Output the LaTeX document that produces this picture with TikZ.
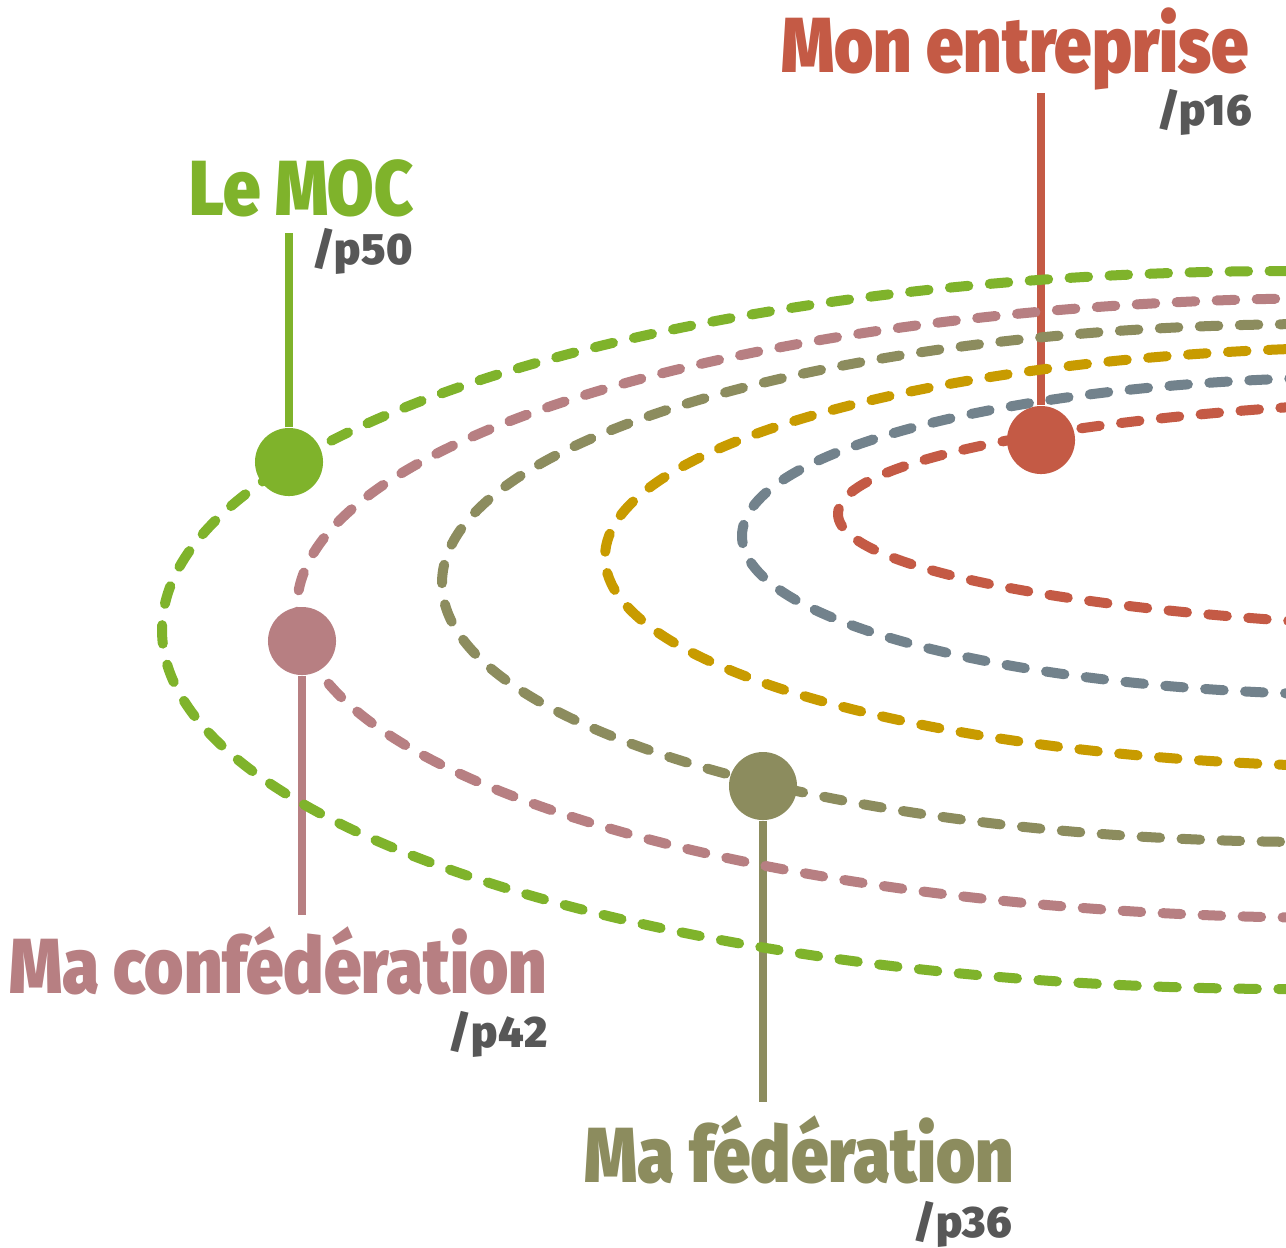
\documentclass[tikz,border=0pt]{standalone}
\usepackage{fontspec}
\newfontfamily\rotulo{Fira Sans}[UprightFont={* Black}, FakeStretch=0.86]
\newfontfamily\rotulopagina{Fira Sans}[UprightFont={* Black}, LetterSpace=2]
\definecolor{verde}{HTML}{7FB32B}
\definecolor{malva}{HTML}{B77F82}
\definecolor{oliva}{HTML}{8C8C5E}
\definecolor{oro}{HTML}{C89B00}
\definecolor{pizarra}{HTML}{72828C}
\definecolor{ladrillo}{HTML}{C45A45}
\definecolor{gristexto}{HTML}{575757}
\newcommand{\orbita}[3]% centro, radio x, radio y
{(#1) ellipse [x radius=#2,y radius=#3]
}

\begin{document}
\begin{tikzpicture}[x=0.01cm, y=-0.01cm,
		orbita/.style={line width=1mm, dash pattern=on 1.85mm off 2.15mm, line cap=round},
		punto/.style={circle, fill=#1, inner sep=0pt, minimum size=6.8mm},
		tallo/.style={line width=0.85mm},
		titulo/.style={font=\rotulo\fontsize{22.2}{24}\selectfont, inner sep=0pt, anchor=base east},
		pagina/.style={font=\rotulopagina\fontsize{12.5}{14}\selectfont, text=gristexto, inner sep=0pt, anchor=base east}]
		\clip (0,0) rectangle (1286,1247);
		
		%Puntos sobre las orbitas
		\node[punto=verde] (moc) at (289,462) {};
		\node[punto=malva] (confederation) at (302,641) {};
		\node[punto=oliva] (federation) at (763,786) {};
		\node[punto=ladrillo] (entreprise) at (1041,440) {};
		
		\coordinate (moc-top) at (289,233);
		\coordinate (confederation-bot) at (302,915);
		\coordinate (federation-bot) at (763,1102);
		\coordinate (entreprise-top) at (1041,93);
		
		\draw[tallo, verde] (moc) -- (moc-top);
		\draw[tallo, malva] (confederation) -- (confederation-bot);
		\draw[tallo, oliva] (federation) -- (federation-bot);
		\draw[tallo, ladrillo] (entreprise) -- (entreprise-top);
		
		%Dibuja las orbitas, de fuera hacia dentro
		\draw[orbita, verde]\orbita{1290,630}{1128}{359};
		\draw[orbita, malva]\orbita{1350,608}{1053}{310};
		\draw[orbita, oliva]\orbita{1320,583}{878}{259};
		\draw[orbita, oro]\orbita{1400,557}{795}{210};
		\draw[orbita, pizarra]\orbita{1380,536}{638}{159};
		\draw[orbita, ladrillo]\orbita{1600,514}{762}{117};
		
		%Rotulos
		\node[titulo, text=ladrillo] (entreprise-label) at (1250,72) {Mon entreprise};
		\node[pagina] (entreprise-page) at (1253,125) {/p16};
		\node[titulo, text=verde] (moc-label) at (414,215) {Le MOC};
		\node[pagina] (moc-page) at (414,264) {/p50};
		\node[titulo, text=malva] (confederation-label) at (548,993) {Ma confédération};
		\node[pagina] (confederation-page) at (548,1047) {/p42};
		\node[titulo, text=oliva] (federation-label) at (1015,1182) {Ma fédération};
		\node[pagina] (federation-page) at (1013,1237) {/p36};
	\end{tikzpicture}
\end{document}
